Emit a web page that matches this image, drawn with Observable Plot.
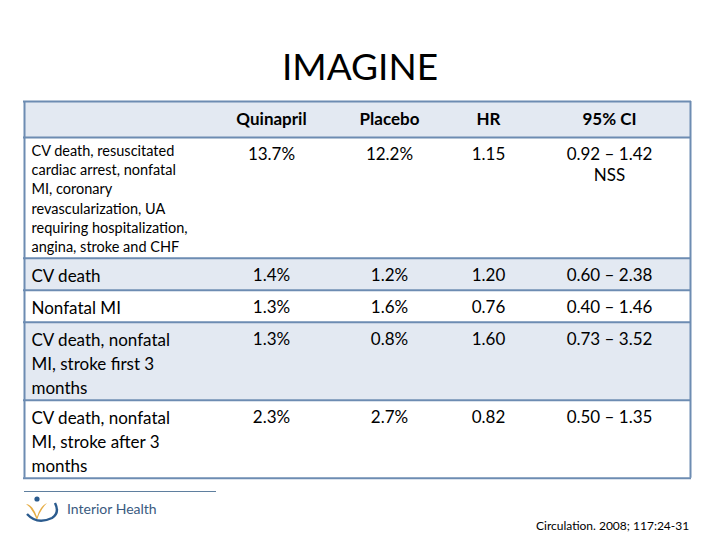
<!DOCTYPE html>
<html>
<head>
<meta charset="utf-8">
<script src="https://cdn.jsdelivr.net/npm/d3@7"></script>
<script src="https://cdn.jsdelivr.net/npm/@observablehq/plot@0.6"></script>
<style>
  html, body { margin: 0; padding: 0; background: #fff; }
  body { width: 720px; height: 540px; position: relative; overflow: hidden; font-family: Lato, "Open Sans", sans-serif; }
  #title { position: absolute; left: 0; width: 720px; top: 44px; text-align: center; font-size: 37px; line-height: 44px; color: #000; }
  #chart { position: absolute; left: 0; top: 95px; }
  #rule { position: absolute; left: 24px; top: 491px; width: 192px; height: 1px; background: #5f7f9f; }
  #logo { position: absolute; left: 22px; top: 494px; }
  #brand { position: absolute; left: 67px; top: 500px; font-size: 14px; color: #3a5a80; }
  #cite { position: absolute; left: 536px; top: 518px; font-size: 12px; color: #000; }
</style>
</head>
<body>
<div id="title">IMAGINE</div>
<div id="chart"></div>
<div id="rule"></div>
<svg id="logo" width="44" height="32" viewBox="0 0 44 32">
  <circle cx="15" cy="5" r="2.6" fill="#2b5b8e"/>
  <path d="M4,10 Q11,11 15,23 Q18,12 25,9 Q18,16 15,26 Q10,14 4,10 Z" fill="#e6ad45"/>
  <path d="M5,20 Q15,31 30,24 Q38,19 33,9" fill="none" stroke="#2b5b8e" stroke-width="2.4"/>
</svg>
<div id="brand">Interior Health</div>
<div id="cite">Circulation. 2008; 117:24-31</div>
<script>
// ---- data ----
const columns = ["Quinapril", "Placebo", "HR", "95% CI"];
const outcomes = [
  "CV death, resuscitated\ncardiac arrest, nonfatal\nMI, coronary\nrevascularization, UA\nrequiring hospitalization,\nangina, stroke and CHF",
  "CV death",
  "Nonfatal MI",
  "CV death, nonfatal\nMI, stroke first 3\nmonths",
  "CV death, nonfatal\nMI, stroke after 3\nmonths"
];
const quinapril = [13.7, 1.4, 1.3, 1.3, 2.3];
const placebo = [12.2, 1.2, 1.6, 0.8, 2.7];
const hazardRatio = [1.15, 1.20, 0.76, 1.60, 0.82];
const ciLow = [0.92, 0.60, 0.40, 0.73, 0.50];
const ciHigh = [1.42, 2.38, 1.46, 3.52, 1.35];
const ciNote = ["NSS", "", "", "", ""];

// ---- layout ----
const tableLeft = 24, tableTop = 101, labelPad = 7;
const colWidths = [188, 118, 118, 80, 162];
const headerH = 36;
const bandFill = "#e3e9f2", lineColor = "#6d8cb2";
const colEdges = colWidths.reduce((acc, w) => (acc.push(acc[acc.length - 1] + w), acc), [tableLeft]);
const tableRight = colEdges[colEdges.length - 1];
const colCenters = columns.map((_, i) => (colEdges[i + 1] + colEdges[i + 2]) / 2);

let yCursor = tableTop + headerH;
const rows = outcomes.map((label, i) => {
  const lines = label.split("\n").length;
  const small = lines > 3;
  const h = small ? lines * 19.3 + 5 : lines * 23 + 9;
  const r = {
    label, small, y1: yCursor, y2: yCursor + h,
    capTop: yCursor + (small ? 4.5 : 7),
    valTop: yCursor + 7.5,
    fill: i % 2 === 1 ? bandFill : "#ffffff"
  };
  yCursor += h;
  return r;
});
const tableBottom = yCursor;
const bands = [{y1: tableTop, y2: tableTop + headerH, fill: bandFill}, ...rows];
const boundaries = [tableTop, ...rows.map(r => r.y1), tableBottom];

const cells = [];
rows.forEach((r, i) => {
  const texts = [
    quinapril[i].toFixed(1) + "%",
    placebo[i].toFixed(1) + "%",
    hazardRatio[i].toFixed(2),
    ciLow[i].toFixed(2) + " \u2013 " + ciHigh[i].toFixed(2) + (ciNote[i] ? "\n" + ciNote[i] : "")
  ];
  texts.forEach((t, j) => cells.push({x: colCenters[j], y: r.valTop, text: t}));
});
const headers = columns.map((c, i) => ({x: colCenters[i], y: tableTop + headerH / 2, text: c}));

const plot = Plot.plot({
  width: 720,
  height: 395,
  margin: 0,
  x: {type: "linear", domain: [0, 720], range: [0, 720], axis: null},
  y: {type: "linear", domain: [95, 490], range: [0, 395], axis: null},
  color: {type: "identity"},
  style: {fontFamily: "Lato, 'Open Sans', sans-serif", background: "#fff", color: "#000"},
  marks: [
    Plot.rect(bands, {x1: () => tableLeft, x2: () => tableRight, y1: "y1", y2: "y2", fill: "fill"}),
    Plot.ruleY(boundaries, {x1: () => tableLeft - 1, x2: () => tableRight + 1, stroke: lineColor, strokeWidth: 2}),
    Plot.ruleX([tableLeft, tableRight], {y1: () => tableTop, y2: () => tableBottom, stroke: lineColor, strokeWidth: 2}),
    Plot.text(headers, {x: "x", y: "y", text: "text", fontSize: 17, fontWeight: "bold", textAnchor: "middle", fill: "#000"}),
    Plot.text(rows.filter(r => r.small), {x: () => tableLeft + labelPad, y: "capTop", text: "label", textAnchor: "start", lineAnchor: "top", fontSize: 14.5, lineHeight: 1.33, fill: "#000"}),
    Plot.text(rows.filter(r => !r.small), {x: () => tableLeft + labelPad, y: "capTop", text: "label", textAnchor: "start", lineAnchor: "top", fontSize: 17, lineHeight: 1.41, fill: "#000"}),
    Plot.text(cells, {x: "x", y: "y", text: "text", textAnchor: "middle", lineAnchor: "top", fontSize: 17, lineHeight: 1.24, fill: "#000"})
  ]
});
document.getElementById("chart").appendChild(plot);
</script>
</body>
</html>
